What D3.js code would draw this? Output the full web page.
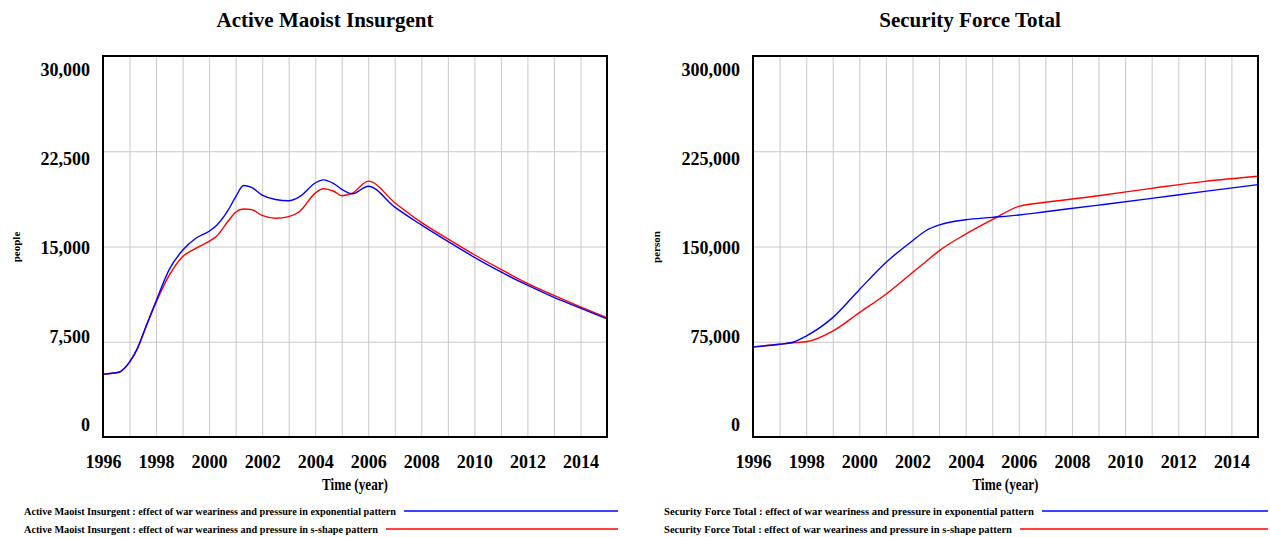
<!DOCTYPE html>
<html>
<head>
<meta charset="utf-8">
<script src="https://cdn.jsdelivr.net/npm/d3@7"></script>
<style>
  body { margin: 0; background: #fff; }
  svg { display: block; font-family: "Liberation Serif", "DejaVu Serif", serif; font-weight: bold; }
</style>
</head>
<body>
<svg id="chart" width="1270" height="537"></svg>
<script>
// ---- data ----
const insurgentYears = [1996, 1996.6, 1996.8, 1997, 1997.3, 1997.6, 1998, 1998.5, 1999, 1999.5, 2000, 2000.3, 2000.7, 2001, 2001.3, 2001.6, 2002, 2002.5, 2003, 2003.4, 2004, 2004.3, 2004.7, 2005, 2005.4, 2006, 2007, 2008, 2009, 2010, 2011, 2012, 2013, 2014, 2015];
const insurgentExp = [4950, 5100, 5400, 5900, 7000, 8600, 10700, 13200, 14700, 15650, 16200, 16700, 17800, 18900, 19800, 19650, 19050, 18700, 18600, 18900, 20000, 20250, 19950, 19500, 19150, 19750, 18100, 16700, 15400, 14150, 13000, 11950, 11000, 10150, 9300];
const insurgentS   = [4950, 5100, 5400, 5900, 6950, 8550, 10600, 12750, 14200, 14850, 15400, 15850, 16950, 17700, 17950, 17900, 17450, 17220, 17350, 17740, 19200, 19550, 19350, 19000, 19200, 20150, 18450, 16900, 15600, 14350, 13200, 12100, 11150, 10250, 9400];

const forceYears = [1996, 1997, 1997.5, 1998, 1999, 2000, 2001, 2002, 2002.5, 2003, 2004, 2005, 2006, 2007, 2009, 2011, 2013, 2015];
const forceExp = [71000, 73000, 74600, 79500, 94000, 116000, 137400, 154500, 162400, 166900, 171100, 172900, 174800, 177400, 182600, 187900, 193400, 198700];
const forceS   = [71000, 73000, 74200, 75000, 83400, 97900, 112400, 129500, 138000, 146600, 159700, 171100, 181600, 184800, 190000, 195800, 201300, 205300];

const yearTicks = d3.range(1996, 2016);
const yearLabels = d3.range(1996, 2015, 2);
const insurgentTicks = [0, 7500, 15000, 22500, 30000];
const forceTicks = [0, 75000, 150000, 225000, 300000];

const blue = "#0000ff", red = "#ff0000";

const svg = d3.select("#chart");

// axis groups come with their own font settings; drop them so the svg font applies
const plain = g => g.attr("font-family", null).attr("font-size", null);

function drawPanel(p) {
    const x = d3.scaleLinear().domain([1996, 2015]).range([p.left, p.right]);
    const y = d3.scaleLinear().domain([0, p.max]).range([437, 56]);
    // Vensim spreads the value labels slightly inside the frame
    const yLabel = d3.scaleLinear().domain([0, p.max]).range([425, 70]);
    const g = svg.append("g");

    // grid
    g.append("g")
        .attr("transform", "translate(0,437)")
        .call(d3.axisBottom(x).tickValues(yearTicks).tickSize(-381).tickFormat(""))
        .call(g => g.select(".domain").remove())
        .call(g => g.selectAll("line").attr("stroke", "#c8c8c8"));
    g.append("g")
        .attr("transform", `translate(${p.left},0)`)
        .call(d3.axisLeft(y).tickValues(p.ticks).tickSize(-(p.right - p.left)).tickFormat(""))
        .call(g => g.select(".domain").remove())
        .call(g => g.selectAll("line").attr("stroke", "#c8c8c8"));

    // labels
    g.append("g")
        .attr("transform", `translate(${p.left},0)`)
        .call(d3.axisLeft(yLabel).tickValues(p.ticks).tickSize(0).tickPadding(13).tickFormat(d3.format(",")))
        .call(plain)
        .call(g => g.select(".domain").remove())
        .call(g => g.selectAll("text").attr("font-size", 18).attr("fill", "#000"));
    g.append("g")
        .attr("transform", "translate(0,437)")
        .call(d3.axisBottom(x).tickValues(yearLabels).tickSize(0).tickPadding(18).tickFormat(d3.format("d")))
        .call(plain)
        .call(g => g.select(".domain").remove())
        .call(g => g.selectAll("text").attr("font-size", 18).attr("fill", "#000"));

    // lines
    const line = (xs) => d3.line().x((d, i) => x(xs[i])).y(d => y(d)).curve(d3.curveMonotoneX);
    g.append("path").datum(p.s).attr("d", line(p.years)).attr("fill", "none").attr("stroke", red).attr("stroke-width", 1.4);
    g.append("path").datum(p.exp).attr("d", line(p.years)).attr("fill", "none").attr("stroke", blue).attr("stroke-width", 1.4);

    // frame
    g.append("rect")
        .attr("x", p.left).attr("y", 56).attr("width", p.right - p.left).attr("height", 381)
        .attr("fill", "none").attr("stroke", "#000").attr("stroke-width", 2);

    // titles
    g.append("text").attr("x", p.titleX).attr("y", 27).attr("text-anchor", "middle")
        .attr("font-size", 21).text(p.title);
    g.append("text").attr("x", (p.left + p.right) / 2).attr("y", 490).attr("text-anchor", "middle")
        .attr("font-size", 17).attr("textLength", 66).attr("lengthAdjust", "spacingAndGlyphs").text("Time (year)");
    g.append("text").attr("transform", `translate(${p.unitX},247) rotate(-90)`).attr("text-anchor", "middle")
        .attr("font-size", 11).text(p.unit);

    // legend
    const rows = [
        {label: p.title + " : effect of war weariness and pressure in exponential pattern", color: blue, y: 511, w: p.legendW[0]},
        {label: p.title + " : effect of war weariness and pressure in s-shape pattern", color: red, y: 529, w: p.legendW[1]}
    ];
    rows.forEach(r => {
        g.append("text").attr("x", p.legendX).attr("y", r.y + 3.5).attr("font-size", 10)
            .attr("textLength", r.w).attr("lengthAdjust", "spacingAndGlyphs").text(r.label);
        g.append("line").attr("x1", p.legendX + r.w + 8).attr("x2", p.legendEnd)
            .attr("y1", r.y).attr("y2", r.y).attr("stroke", r.color).attr("stroke-width", 1.4);
    });
}

drawPanel({
    title: "Active Maoist Insurgent", unit: "people", max: 30000, ticks: insurgentTicks,
    years: insurgentYears, exp: insurgentExp, s: insurgentS,
    left: 103, right: 607, titleX: 325, unitX: 20,
    legendX: 24, legendW: [372, 354], legendEnd: 618
});
drawPanel({
    title: "Security Force Total", unit: "person", max: 300000, ticks: forceTicks,
    years: forceYears, exp: forceExp, s: forceS,
    left: 753, right: 1258, titleX: 970, unitX: 660,
    legendX: 664, legendW: [370, 348], legendEnd: 1268
});
</script>
</body>
</html>
